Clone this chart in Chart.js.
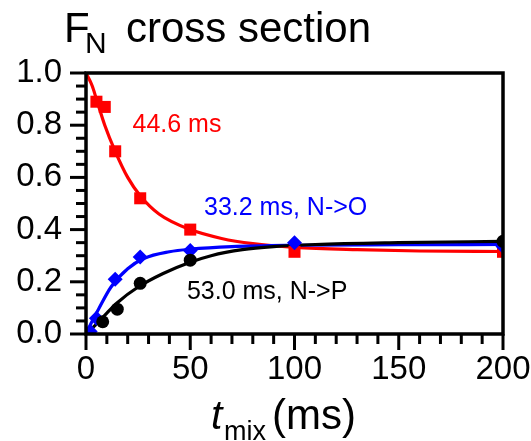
<!DOCTYPE html>
<html>
<head>
<meta charset="utf-8">
<script src="https://cdn.jsdelivr.net/npm/chart.js@4.4.0/dist/chart.umd.min.js"></script>
<style>
  html, body { margin: 0; padding: 0; background: #ffffff; }
  #wrap { width: 531px; height: 441px; position: relative; }
</style>
</head>
<body>
<div id="wrap"><canvas id="chart" width="531" height="441"></canvas></div>
<script>
// F_N cross-peak intensity versus mixing time (ms)

// measured points
const redTimes    = [5, 9, 14, 26, 50, 100, 200];
const redValues   = [0.89, 0.87, 0.70, 0.52, 0.40, 0.315, 0.315];
const blueTimes   = [2, 5, 14, 26, 50, 100, 200];
const blueValues  = [0.01, 0.06, 0.21, 0.295, 0.32, 0.35, 0.335];
const blackTimes  = [8, 15, 26, 50, 200];
const blackValues = [0.047, 0.095, 0.194, 0.283, 0.355];

// fitted curves
const redFitTimes   = [0, 3, 5, 9, 14, 20, 26, 35, 50, 65, 80, 100, 130, 160, 200];
const redFitValues  = [1.0, 0.95, 0.90, 0.80, 0.70, 0.60, 0.53, 0.46, 0.40, 0.366, 0.346, 0.332, 0.323, 0.318, 0.316];
const blueFitTimes  = [0, 3, 6, 12, 20, 28, 40, 50, 70, 100, 150, 200];
const blueFitValues = [0, 0.05, 0.095, 0.18, 0.25, 0.29, 0.315, 0.325, 0.335, 0.34, 0.342, 0.343];
const blackFitTimes  = [0, 5, 10, 15, 25, 37, 50, 60, 75, 90, 110, 150, 200];
const blackFitValues = [0, 0.038, 0.08, 0.12, 0.18, 0.232, 0.275, 0.30, 0.323, 0.335, 0.343, 0.35, 0.355];

// axis ticks
const xMajorTicks = [0, 50, 100, 150, 200];
const xMinorTicks = [10, 20, 30, 40, 60, 70, 80, 90, 110, 120, 130, 140, 160, 170, 180, 190];
const yMajorTicks = [0, 0.2, 0.4, 0.6, 0.8, 1.0];
const yMinorTicks = [0.05, 0.1, 0.15, 0.25, 0.3, 0.35, 0.45, 0.5, 0.55, 0.65, 0.7, 0.75, 0.85, 0.9, 0.95];

// lifetime labels
const labelTexts = ['44.6 ms', '33.2 ms, N->O', '53.0 ms, N->P'];

const RED = '#ff0000', BLUE = '#0000ff', BLACK = '#000000';
const FONT = '"Liberation Sans", Arial, Helvetica, sans-serif';

const pts = (xs, ys) => xs.map((x, i) => ({ x: x, y: ys[i] }));

// where the lifetime labels sit, in data units (left edge, vertical centre)
const labelAnchors = [
  { x: 22.3, y: 0.80, color: RED },
  { x: 56.6, y: 0.483, color: BLUE },
  { x: 48.4, y: 0.161, color: BLACK }
];

const frameAndText = {
  id: 'frameAndText',
  afterDatasetsDraw(chart) {
    const ctx = chart.ctx;
    const a = chart.chartArea;
    const xs = chart.scales.x, ys = chart.scales.y;
    ctx.save();
    ctx.strokeStyle = BLACK;
    ctx.lineCap = 'butt';

    // tick marks pointing outwards
    ctx.lineWidth = 3;
    const tick = (x1, y1, x2, y2) => { ctx.beginPath(); ctx.moveTo(x1, y1); ctx.lineTo(x2, y2); ctx.stroke(); };
    xMajorTicks.forEach(v => { const px = xs.getPixelForValue(v); tick(px, a.bottom, px, a.bottom + 16); });
    xMinorTicks.forEach(v => { const px = xs.getPixelForValue(v); tick(px, a.bottom, px, a.bottom + 10); });
    yMajorTicks.forEach(v => { const py = ys.getPixelForValue(v); tick(a.left, py, a.left - 16, py); });
    yMinorTicks.forEach(v => { const py = ys.getPixelForValue(v); tick(a.left, py, a.left - 10, py); });

    // plot frame
    ctx.lineWidth = 3.5;
    ctx.strokeRect(a.left, a.top, a.right - a.left, a.bottom - a.top);

    // lifetime labels
    ctx.font = '25px ' + FONT;
    ctx.textAlign = 'left';
    ctx.textBaseline = 'middle';
    labelAnchors.forEach((l, i) => {
      ctx.fillStyle = l.color;
      ctx.fillText(labelTexts[i], xs.getPixelForValue(l.x), ys.getPixelForValue(l.y));
    });

    // title: F_N cross section
    ctx.fillStyle = BLACK;
    ctx.textBaseline = 'alphabetic';
    ctx.font = '42px ' + FONT;
    ctx.fillText('F', 64, 42);
    ctx.font = '30px ' + FONT;
    ctx.fillText('N', 85, 53);
    ctx.font = '42px ' + FONT;
    ctx.fillText('cross section', 126, 42);

    // x axis title: t_mix (ms)
    ctx.font = 'italic 41px ' + FONT;
    ctx.fillText('t', 211, 429);
    ctx.font = '27px ' + FONT;
    ctx.fillText('mix', 224, 440);
    ctx.font = '42px ' + FONT;
    ctx.fillText('(ms)', 272, 429);
    ctx.restore();
  }
};

const fitLine = (times, values, color) => ({
  type: 'scatter',
  data: pts(times, values),
  showLine: true,
  clip: 0,
  borderColor: color,
  backgroundColor: color,
  borderWidth: 3.2,
  pointRadius: 0,
  pointHoverRadius: 0,
  cubicInterpolationMode: 'monotone',
  order: 2
});

const markers = (times, values, color, style, radius) => ({
  type: 'scatter',
  data: pts(times, values),
  showLine: false,
  clip: 0,
  pointStyle: style,
  pointRadius: radius,
  pointHoverRadius: radius,
  pointBorderWidth: 0,
  pointBackgroundColor: color,
  pointBorderColor: color,
  order: 1
});

new Chart(document.getElementById('chart'), {
  type: 'scatter',
  data: {
    datasets: [
      fitLine(blackFitTimes, blackFitValues, BLACK),
      fitLine(blueFitTimes, blueFitValues, BLUE),
      fitLine(redFitTimes, redFitValues, RED),
      markers(blackTimes, blackValues, BLACK, 'circle', 6.5),
      markers(blueTimes, blueValues, BLUE, 'rectRot', 7.5),
      markers(redTimes, redValues, RED, 'rect', 8.5)
    ]
  },
  options: {
    responsive: false,
    animation: false,
    devicePixelRatio: 1,
    layout: { padding: { top: 73, right: 28, left: 0, bottom: 0 } },
    plugins: { legend: { display: false }, tooltip: { enabled: false }, title: { display: false } },
    scales: {
      x: {
        type: 'linear', min: 0, max: 200,
        afterFit(scale) { scale.height = 107; scale.paddingLeft = 0; scale.paddingRight = 0; },
        grid: { display: false, drawTicks: false },
        border: { display: false },
        ticks: {
          stepSize: 50, padding: 16, color: BLACK, maxRotation: 0,
          font: { family: FONT, size: 33 }
        }
      },
      y: {
        type: 'linear', min: 0, max: 1,
        afterFit(scale) { scale.width = 86; scale.paddingTop = 0; scale.paddingBottom = 0; },
        grid: { display: false, drawTicks: false },
        border: { display: false },
        ticks: {
          stepSize: 0.2, padding: 24, color: BLACK,
          font: { family: FONT, size: 33 },
          callback: v => v.toFixed(1)
        }
      }
    }
  },
  plugins: [frameAndText]
});
</script>
</body>
</html>
